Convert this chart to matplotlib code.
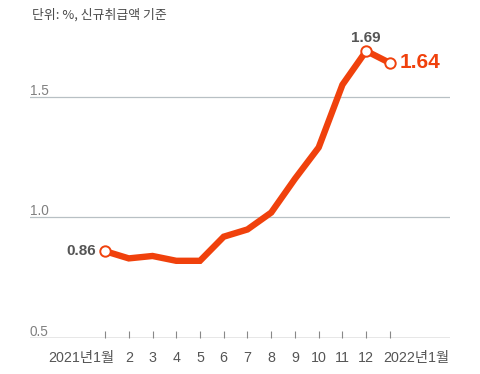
import matplotlib
matplotlib.use("Agg")
import matplotlib.pyplot as plt
import matplotlib.transforms as mtransforms

plt.rcParams['font.family'] = ['Liberation Sans', 'Noto Sans CJK KR', 'DejaVu Sans']

months = ['2021년1월', '2', '3', '4', '5', '6', '7', '8', '9', '10', '11', '12', '2022년1월']
values = [0.86, 0.83, 0.84, 0.82, 0.82, 0.92, 0.95, 1.02, 1.16, 1.29, 1.55, 1.69, 1.64]
y_ticks = [0.5, 1.0, 1.5]
title = '단위: %, 신규취급액 기준'

RED = '#f0410c'
GRAY = '#555555'
GRID = '#b8c0c4'

fig = plt.figure(figsize=(4.8, 3.74), dpi=100)
ax = fig.add_axes([30/480, 1-338/374, 420/480, (338-24.4)/374])
x = list(range(len(values)))
ax.plot(x, values, color=RED, lw=4.6, solid_joinstyle='miter', solid_capstyle='butt', zorder=3)
for i in (0, 11, 12):
    ax.plot(x[i], values[i], 'o', ms=7.5, mfc='white', mec=RED, mew=1.4, zorder=4)

ax.set_xlim(-3.16, 14.53)
ax.set_ylim(0.5, 1.8)
for s in ax.spines.values():
    s.set_visible(False)
ax.set_yticks([])
ax.set_xticks(x)
ax.set_xticklabels([])
ax.tick_params(axis='x', direction='in', length=5, width=0.8, color='#888888', pad=0)
ax.axhline(0.5, color='#888888', lw=1.0, zorder=2)
for yv in y_ticks[1:]:
    ax.axhline(yv, color=GRID, lw=0.9, zorder=1)
for yv in y_ticks:
    ax.text(-3.16, yv + 0.009, f'{yv:.1f}', color='#808080', fontsize=9.8, ha='left', va='baseline')

trans = mtransforms.blended_transform_factory(ax.transData, ax.transAxes)
for i, lab in enumerate(months):
    if i == 0:
        xx, ha = 0.38, 'right'
    elif i == len(months) - 1:
        xx, ha = 11.7, 'left'
    else:
        xx, ha = i, 'center'
    ax.text(xx, -0.04, lab, transform=trans, ha=ha, va='top', fontsize=10.3, color=GRAY)

ax.text(-0.4, values[0], f'{values[0]:.2f}', ha='right', va='center', fontsize=11, color=GRAY, fontweight='bold')
ax.text(11, values[11] + 0.037, f'{values[11]:.2f}', ha='center', va='baseline', fontsize=11, color=GRAY, fontweight='bold')
ax.text(12.4, values[12], f'{values[12]:.2f}', ha='left', va='center', fontsize=15, color=RED, fontweight='bold')

fig.text(32/480, 1-15/374, title, ha='left', va='center', fontsize=9.3, color='#4a4a4a',
         fontweight='medium', family=['Noto Sans CJK KR', 'DejaVu Sans'])

fig.savefig('out.png', dpi=100)
